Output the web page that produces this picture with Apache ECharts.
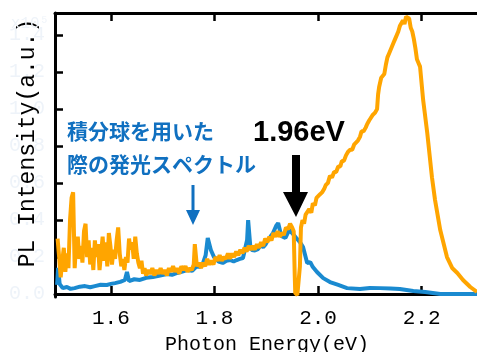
<!DOCTYPE html>
<html><head><meta charset="utf-8">
<script src="https://cdn.jsdelivr.net/npm/echarts@6/dist/echarts.min.js"></script>
<style>html,body{margin:0;padding:0;background:#fff}#c{width:477px;height:352px}</style>
</head><body><div id="c"></div>
<script>
// Orange: spectrum (energy eV, intensity x10^5)
const orangeE = [1.497,1.500,1.503,1.506,1.509,1.512,1.515,1.518,1.521,1.524,1.527,1.530,1.533,1.536,1.539,1.542,1.545,1.548,1.551,1.554,1.557,1.560,1.563,1.566,1.569,1.572,1.575,1.578,1.581,1.584,1.587,1.590,1.593,1.596,1.599,1.602,1.605,1.608,1.611,1.614,1.617,1.620,1.623,1.626,1.629,1.632,1.635,1.638,1.641,1.644,1.647,1.650,1.653,1.656,1.659,1.662,1.665,1.668,1.672,1.676,1.680,1.684,1.688,1.692,1.696,1.700,1.704,1.708,1.712,1.716,1.720,1.724,1.728,1.732,1.736,1.740,1.744,1.748,1.752,1.756,1.760,1.762,1.764,1.766,1.770,1.774,1.778,1.782,1.786,1.790,1.794,1.798,1.802,1.806,1.810,1.814,1.818,1.822,1.826,1.830,1.834,1.838,1.842,1.846,1.850,1.854,1.858,1.862,1.866,1.870,1.874,1.878,1.882,1.886,1.890,1.894,1.898,1.902,1.906,1.910,1.914,1.918,1.922,1.926,1.930,1.934,1.938,1.942,1.946,1.950,1.953,1.955,1.956,1.960,1.963,1.965,1.967,1.970,1.973,1.976,1.979,1.983,1.987,1.990,1.994,1.997,2.000,2.004,2.008,2.012,2.015,2.019,2.023,2.027,2.031,2.035,2.039,2.043,2.046,2.050,2.054,2.058,2.062,2.066,2.070,2.073,2.077,2.081,2.084,2.088,2.092,2.095,2.099,2.102,2.106,2.110,2.114,2.116,2.118,2.122,2.125,2.128,2.131,2.134,2.137,2.140,2.143,2.146,2.149,2.152,2.155,2.158,2.161,2.164,2.167,2.170,2.173,2.176,2.179,2.182,2.185,2.188,2.191,2.194,2.197,2.203,2.211,2.220,2.226,2.236,2.249,2.259,2.269,2.280,2.294,2.307];
const orangeI = [0.30,0.20,0.09,0.18,0.25,0.12,0.22,0.14,0.40,0.52,0.55,0.14,0.28,0.31,0.19,0.26,0.17,0.34,0.38,0.20,0.29,0.16,0.25,0.13,0.29,0.20,0.27,0.13,0.22,0.31,0.18,0.28,0.15,0.33,0.26,0.16,0.24,0.19,0.29,0.36,0.22,0.15,0.19,0.13,0.20,0.17,0.30,0.24,0.28,0.19,0.31,0.22,0.17,0.14,0.18,0.11,0.14,0.10,0.13,0.11,0.14,0.10,0.13,0.11,0.14,0.11,0.13,0.10,0.14,0.12,0.15,0.12,0.14,0.11,0.15,0.13,0.15,0.12,0.14,0.13,0.16,0.27,0.28,0.15,0.17,0.14,0.17,0.15,0.19,0.16,0.18,0.16,0.20,0.18,0.21,0.18,0.20,0.19,0.22,0.19,0.22,0.20,0.23,0.21,0.24,0.22,0.25,0.23,0.26,0.24,0.26,0.24,0.27,0.25,0.28,0.26,0.30,0.28,0.31,0.29,0.33,0.31,0.34,0.31,0.33,0.32,0.36,0.35,0.38,0.36,0.34,0.10,0.005,-0.005,0.005,0.15,0.36,0.40,0.38,0.43,0.42,0.46,0.44,0.49,0.48,0.52,0.51,0.54,0.55,0.57,0.59,0.60,0.64,0.63,0.66,0.66,0.69,0.69,0.72,0.72,0.75,0.77,0.78,0.78,0.81,0.82,0.83,0.85,0.88,0.88,0.90,0.92,0.94,0.95,0.97,0.98,1.00,1.08,1.12,1.17,1.17,1.19,1.24,1.28,1.30,1.31,1.34,1.36,1.38,1.37,1.42,1.45,1.46,1.48,1.46,1.50,1.51,1.49,1.44,1.42,1.38,1.33,1.27,1.25,1.23,1.049,0.870,0.632,0.508,0.346,0.200,0.141,0.114,0.076,0.038,0.011];
// Blue: spectrum measured with integrating sphere
const blueE = [1.496,1.498,1.501,1.507,1.515,1.522,1.530,1.540,1.550,1.560,1.569,1.580,1.592,1.600,1.608,1.618,1.627,1.631,1.635,1.645,1.656,1.668,1.681,1.695,1.708,1.718,1.728,1.738,1.747,1.757,1.766,1.772,1.778,1.783,1.787,1.793,1.799,1.808,1.816,1.823,1.830,1.837,1.843,1.849,1.855,1.863,1.865,1.869,1.872,1.878,1.884,1.889,1.894,1.899,1.903,1.908,1.913,1.919,1.923,1.929,1.937,1.944,1.950,1.958,1.965,1.971,1.979,1.985,1.990,1.998,2.010,2.023,2.039,2.056,2.081,2.100,2.120,2.140,2.158,2.184,2.207,2.236,2.274,2.307];
const blueI = [0.049,0.141,0.054,0.032,0.038,0.028,0.032,0.040,0.043,0.037,0.043,0.050,0.049,0.055,0.059,0.066,0.076,0.119,0.070,0.080,0.076,0.088,0.092,0.100,0.108,0.104,0.114,0.122,0.130,0.126,0.151,0.146,0.168,0.211,0.303,0.238,0.200,0.176,0.168,0.180,0.184,0.176,0.184,0.190,0.195,0.292,0.400,0.265,0.238,0.236,0.243,0.262,0.254,0.270,0.292,0.310,0.330,0.368,0.384,0.314,0.303,0.346,0.330,0.303,0.281,0.254,0.168,0.173,0.146,0.119,0.086,0.065,0.049,0.032,0.027,0.033,0.032,0.030,0.027,0.016,0.011,0.000,0.000,0.000];
const xTicks = [1.6, 1.8, 2.0, 2.2];
const yTicks = [0, 0.2, 0.4, 0.6, 0.8, 1.0, 1.2, 1.4];
const xName = 'Photon Energy(eV)';
const yName = 'PL Intensity(a.u.)';
const note1 = '積分球を用いた';
const note2 = '際の発光スペクトル';
const peakLabel = '1.96eV';

const zip = (a, b) => a.map((v, i) => [v, b[i]]);
const mono = '"Liberation Mono", "DejaVu Sans Mono", monospace';
const chart = echarts.init(document.getElementById('c'), null, {renderer: 'canvas'});
chart.setOption({
  animation: false,
  backgroundColor: '#fff',
  grid: {left: 55, right: 0, top: 13, bottom: 55, containLabel: false},
  xAxis: [{
    type: 'value', min: 1.492, max: 2.307, position: 'bottom',
    axisLine: {lineStyle: {color: '#000', width: 3}},
    axisTick: {inside: true, length: 8, lineStyle: {color: '#000', width: 2.5}, customValues: xTicks},
    axisLabel: {customValues: xTicks, color: '#000', fontFamily: mono, fontSize: 21, margin: 11,
      formatter: v => v.toFixed(1)},
    splitLine: {show: false}
  }, {
    type: 'value', min: 1.492, max: 2.307, position: 'top',
    axisLine: {lineStyle: {color: '#000', width: 3}},
    axisTick: {inside: true, length: 8, lineStyle: {color: '#000', width: 2.5}, customValues: xTicks},
    axisLabel: {show: false}, splitLine: {show: false}
  }],
  yAxis: [{
    type: 'value', min: -0.016, max: 1.52,
    axisLine: {show: true, lineStyle: {color: '#000', width: 3}},
    axisTick: {show: true, inside: true, length: 8, lineStyle: {color: '#000', width: 2.5}, customValues: yTicks},
    axisLabel: {customValues: yTicks, color: '#eef3f9', fontFamily: mono, fontSize: 20, margin: 10,
      formatter: v => v.toFixed(1)},
    splitLine: {show: false}
  }],
  series: [{
    type: 'line', data: zip(blueE, blueI), showSymbol: false, symbol: 'none',
    lineStyle: {color: '#1a8ad0', width: 4}, z: 2
  }, {
    type: 'line', data: zip(orangeE, orangeI), showSymbol: false, symbol: 'none',
    lineStyle: {color: '#ffa500', width: 4}, z: 3
  }],
  graphic: [
    {type: 'text', x: 28, y: 143, rotation: Math.PI / 2, z: 10,
      style: {text: yName, fontFamily: mono, fontSize: 23, fill: '#000', align: 'center', verticalAlign: 'middle'}},
    {type: 'text', x: 267, y: 345, z: 10,
      style: {text: xName, fontFamily: mono, fontSize: 20, fill: '#000', align: 'center', verticalAlign: 'middle'}},
    {type: 'text', x: 30, y: 24, z: 10,
      style: {text: 'x10⁵', fontFamily: mono, fontSize: 16, fill: '#eef3f9', align: 'center', verticalAlign: 'middle'}},
    {type: 'text', x: 67, y: 131, z: 10,
      style: {text: note1, fontFamily: '"Noto Sans CJK JP"', fontWeight: 'bold', fontSize: 21, fill: '#1070c0', verticalAlign: 'middle'}},
    {type: 'text', x: 67, y: 164, z: 10,
      style: {text: note2, fontFamily: '"Noto Sans CJK JP"', fontWeight: 'bold', fontSize: 21, fill: '#1070c0', verticalAlign: 'middle'}},
    {type: 'text', x: 299, y: 133, z: 10,
      style: {text: peakLabel, fontFamily: '"Liberation Sans", Arial, sans-serif', fontWeight: 'bold', fontSize: 29, fill: '#000', align: 'center', verticalAlign: 'middle'}},
    {type: 'polygon', z: 10, shape: {points: [[292,155],[300,155],[300,192],[308,192],[296,217],[283,192],[292,192]]}, style: {fill: '#000'}},
    {type: 'polygon', z: 10, shape: {points: [[191.5,185],[194.5,185],[194.5,210],[200,210],[193,225],[186,210],[191.5,210]]}, style: {fill: '#1070c0'}}
  ]
});
</script>
</body></html>
